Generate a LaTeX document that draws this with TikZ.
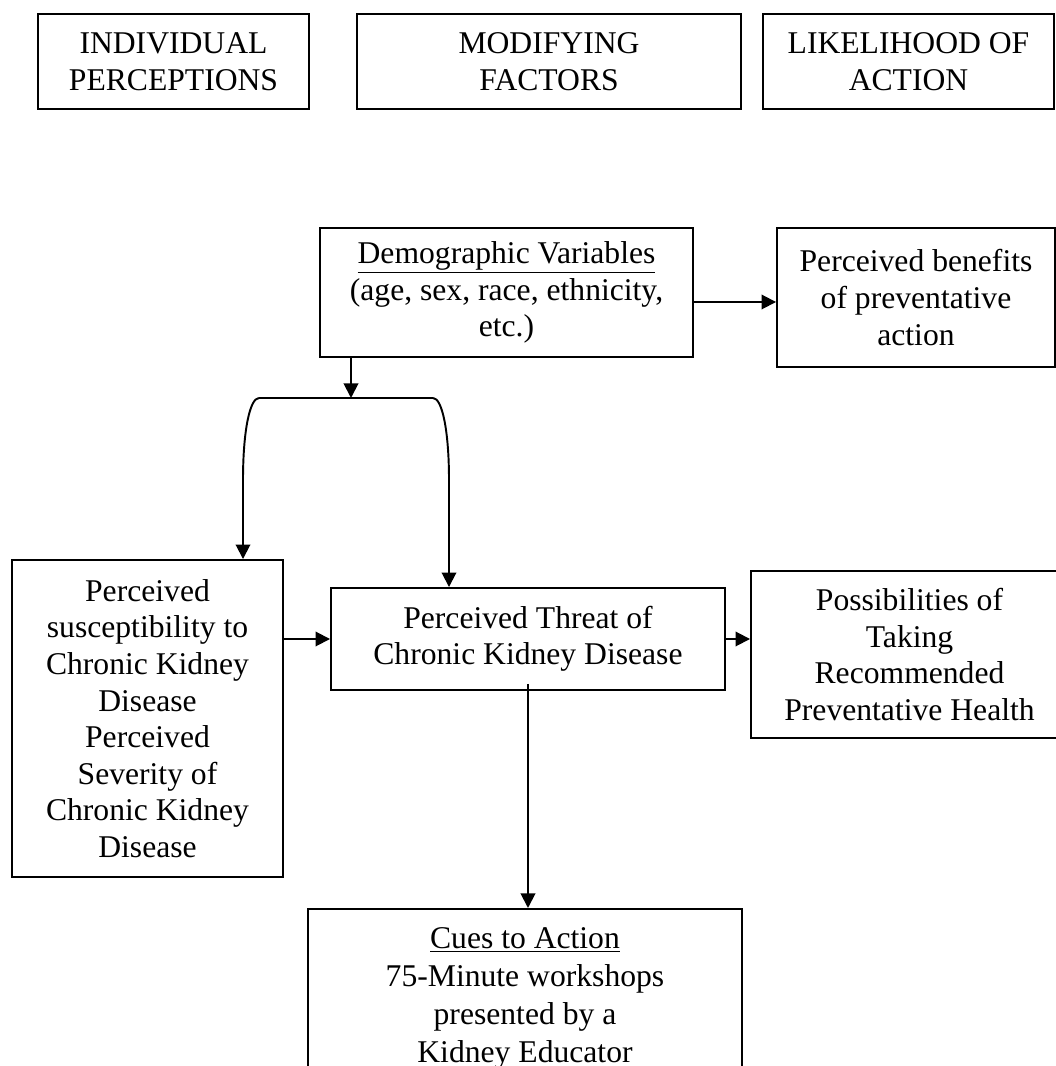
\documentclass[tikz,border=0pt]{standalone}
\usepackage{fontspec}
\setmainfont{Liberation Serif}
\usetikzlibrary{arrows.meta,positioning,calc}
\tikzset{
  hbm/base/.style={draw=black, line width=1.1pt, align=center,
    font=\fontsize{18}{20.8}\selectfont, inner sep=0pt},
  hbm/heading/.style={hbm/base, minimum height=1.9cm,
    execute at begin node={\rule{0pt}{0.64cm}}},
  hbm/arrow/.style={-{Triangle[length=0.29cm,width=0.29cm]}, draw=black,
    line width=1.1pt},
  hbm/line/.style={draw=black, line width=1.1pt},
}

\begin{document}
\begin{tikzpicture}[
    factor/.style={hbm/base, minimum width=7.46cm, minimum height=2.58cm},
    benefit/.style={hbm/base, minimum width=5.56cm, minimum height=2.78cm},
    threatbox/.style={hbm/base, minimum width=7.88cm, minimum height=2.04cm},
    percept/.style={hbm/base, minimum width=5.42cm, minimum height=6.34cm},
    action/.style={hbm/base, minimum width=6.34cm, minimum height=3.34cm},
    cue/.style={hbm/base, minimum width=8.68cm, inner ysep=0.38cm,
      font=\fontsize{18}{21.6}\selectfont},
    arrow/.style={hbm/arrow},
]
\useasboundingbox (0,0) rectangle (21.12,21.32);

% ===== Column headings =====
\node[hbm/heading, minimum width=5.42cm] (indiv)  at (3.47,20.09)  {INDIVIDUAL\\PERCEPTIONS};
\node[hbm/heading, minimum width=7.68cm] (modif)  at (10.98,20.09) {MODIFYING\\FACTORS};
\node[hbm/heading, minimum width=5.82cm] (likely) at (18.17,20.09) {LIKELIHOOD OF\\ACTION};

% ===== Modifying factors =====
\node[factor]  (demo) at (10.13,15.47) {\underline{Demographic Variables}\\(age, sex, race, ethnicity,\\etc.)};
\node[benefit] (bene) at (18.32,15.37) {Perceived benefits\\of preventative\\action};

% ===== Perceptions and threat =====
\node[percept]   (susc)   at (2.95,6.95)  {Perceived\\susceptibility to\\Chronic Kidney\\Disease\\Perceived\\Severity of\\Chronic Kidney\\Disease};
\node[threatbox] (threat) at (10.56,8.54) {Perceived Threat of\\Chronic Kidney Disease};
\node[action]    (poss)   at (18.19,8.23) {Possibilities of\\Taking\\Recommended\\Preventative Health};

% ===== Cues =====
\node[cue, anchor=north] (cues) at (10.50,3.16) {\underline{Cues to Action}\\75-Minute workshops\\presented by a\\Kidney Educator};

% ===== Connectors =====
\coordinate (fork)  at (7.02,13.36);
\coordinate (forkL) at (5.18,13.36);
\coordinate (forkR) at (8.66,13.36);
\coordinate (legL)  at (4.86,11.72);
\coordinate (legR)  at (8.98,11.72);

\draw[arrow] ([yshift=-0.19cm]demo.east) -- ([yshift=-0.19cm]demo.east -| bene.west);
\draw[arrow] (demo.south -| fork) -- (fork);
\draw[hbm/line] (forkL) -- (forkR);
\draw[arrow] (forkL) .. controls +(-0.18,0) and +(0,1.0) .. (legL) -- (legL |- susc.north);
\draw[arrow] (forkR) .. controls +(0.18,0) and +(0,1.0) .. (legR) -- (legR |- threat.north);
\draw[arrow] (susc.east |- threat.west) -- (threat.west);
\draw[arrow] (threat.east) -- (threat.east -| poss.west);
\draw[arrow] ([yshift=0.14cm]threat.south) -- (threat.south |- cues.north);

\end{tikzpicture}
\end{document}
